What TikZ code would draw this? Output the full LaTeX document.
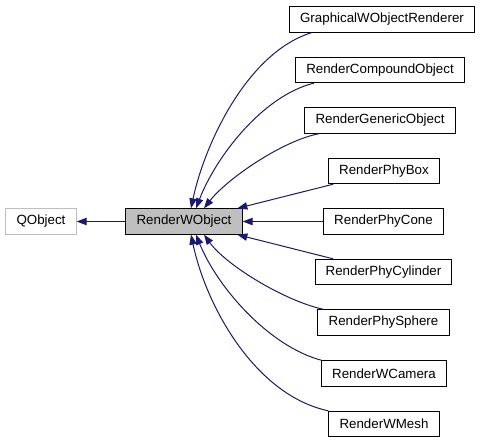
\documentclass[tikz,border=0pt]{standalone}
\usepackage{fontspec}
\setmainfont{Liberation Sans}
\usepackage{tikz}
\usetikzlibrary{arrows.meta}

\definecolor{edgeblue}{HTML}{191970}
\definecolor{basegray}{HTML}{BFBFBF}

\tikzset{
  cls/.style={draw=black, line width=0.75pt, fill=white, inner xsep=8pt, inner ysep=0pt,
    minimum height=19pt, font=\fontsize{10}{12}\selectfont},
  extcls/.style={cls, draw=basegray},
  curcls/.style={cls, fill=basegray},
  inh/.style={every edge/.style={draw=edgeblue, line width=0.75pt,
    -{Triangle[length=7.5pt,width=5.5pt]}}}
}

\begin{document}
\begin{tikzpicture}[x=0.75pt, y=-0.75pt]
  \useasboundingbox (0,0) rectangle (483,443);
  % base and current class
  \node[extcls] (qobj) at (41,221.5) {QObject};
  \node[curcls] (rwo)  at (184,221.5) {RenderWObject};
  % derived classes
  \node[cls] (gwor)   at (382,19.5)  {GraphicalWObjectRenderer};
  \node[cls] (rcomp)  at (380,70)    {RenderCompoundObject};
  \node[cls] (rgen)   at (380,120.5) {RenderGenericObject};
  \node[cls] (pbox)   at (384,171)   {RenderPhyBox};
  \node[cls] (pcone)  at (383.5,221.5) {RenderPhyCone};
  \node[cls] (pcyl)   at (383.5,272) {RenderPhyCylinder};
  \node[cls] (psph)   at (383.5,322.5) {RenderPhySphere};
  \node[cls] (wcam)   at (384,373.5) {RenderWCamera};
  \node[cls] (wmesh)  at (384,424)   {RenderWMesh};

  \path[inh]
  (rwo) edge (qobj)
  ([xshift=17pt]gwor.south west) edge[out=197,in=78,looseness=0.8] ([xshift=5.25pt]rwo.north)
  ([xshift=14pt]rcomp.south west) edge[out=194,in=69,looseness=0.8] ([xshift=9pt]rwo.north)
  ([xshift=11pt]rgen.south west) edge[out=191,in=52,looseness=0.7] ([xshift=15pt]rwo.north)
  ([xshift=4pt]pbox.south west) edge ([xshift=40pt]rwo.north)
  (pcone.west) edge (rwo.east)
  ([xshift=14pt]pcyl.north west) edge ([xshift=40pt]rwo.south)
  ([xshift=4.5pt]psph.north west) edge[out=168,in=306,looseness=0.7] ([xshift=15pt]rwo.south)
  ([xshift=0.5pt]wcam.north west) edge[out=165,in=292,looseness=0.8] ([xshift=9pt]rwo.south)
  (wmesh.north west) edge[out=168,in=282,looseness=0.85] ([xshift=5.25pt]rwo.south)
  ;
\end{tikzpicture}
\end{document}
